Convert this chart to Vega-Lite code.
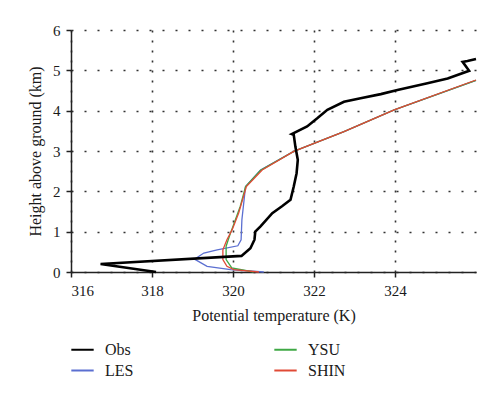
{
  "$schema": "https://vega.github.io/schema/vega-lite/v6.json",
  "width": 405,
  "height": 242,
  "autosize": "none",
  "padding": {"left": 71, "top": 30, "right": 24, "bottom": 126},
  "background": "white",
  "config": {
    "view": {"stroke": null},
    "font": "Liberation Serif",
    "axis": {
      "labelFont": "Liberation Serif",
      "titleFont": "Liberation Serif",
      "labelFontSize": 15,
      "titleFontSize": 16,
      "titleFontWeight": "normal",
      "labelColor": "#1a1a1a",
      "titleColor": "#1a1a1a",
      "domainColor": "#222",
      "domainWidth": 1.5,
      "tickColor": "#222",
      "tickWidth": 1.5,
      "tickSize": 5,
      "gridColor": "#333",
      "gridWidth": 1.6,
      "gridOpacity": 1
    },
    "legend": {
      "labelFont": "Liberation Serif",
      "labelFontSize": 16,
      "labelColor": "#1a1a1a"
    }
  },
  "data": {
    "values": [
      {"s": "Obs", "i": 0, "t": 318.10, "h": 0.0},
      {"s": "Obs", "i": 1, "t": 316.73, "h": 0.2},
      {"s": "Obs", "i": 2, "t": 320.21, "h": 0.40},
      {"s": "Obs", "i": 3, "t": 320.43, "h": 0.59},
      {"s": "Obs", "i": 4, "t": 320.53, "h": 0.80},
      {"s": "Obs", "i": 5, "t": 320.55, "h": 1.0},
      {"s": "Obs", "i": 6, "t": 320.68, "h": 1.13},
      {"s": "Obs", "i": 7, "t": 320.97, "h": 1.46},
      {"s": "Obs", "i": 8, "t": 321.21, "h": 1.63},
      {"s": "Obs", "i": 9, "t": 321.42, "h": 1.79},
      {"s": "Obs", "i": 10, "t": 321.50, "h": 2.12},
      {"s": "Obs", "i": 11, "t": 321.57, "h": 2.45},
      {"s": "Obs", "i": 12, "t": 321.60, "h": 2.78},
      {"s": "Obs", "i": 13, "t": 321.54, "h": 3.11},
      {"s": "Obs", "i": 14, "t": 321.50, "h": 3.40},
      {"s": "Obs", "i": 15, "t": 321.45, "h": 3.42},
      {"s": "Obs", "i": 16, "t": 321.83, "h": 3.61},
      {"s": "Obs", "i": 17, "t": 322.08, "h": 3.81},
      {"s": "Obs", "i": 18, "t": 322.33, "h": 4.02},
      {"s": "Obs", "i": 19, "t": 322.74, "h": 4.22},
      {"s": "Obs", "i": 20, "t": 323.15, "h": 4.31},
      {"s": "Obs", "i": 21, "t": 323.65, "h": 4.41},
      {"s": "Obs", "i": 22, "t": 324.06, "h": 4.51},
      {"s": "Obs", "i": 23, "t": 324.80, "h": 4.68},
      {"s": "Obs", "i": 24, "t": 325.30, "h": 4.80},
      {"s": "Obs", "i": 25, "t": 325.83, "h": 4.99},
      {"s": "Obs", "i": 26, "t": 325.67, "h": 5.21},
      {"s": "Obs", "i": 27, "t": 325.79, "h": 5.23},
      {"s": "Obs", "i": 28, "t": 326.0, "h": 5.28},

      {"s": "LES", "i": 0, "t": 320.76, "h": 0.0},
      {"s": "LES", "i": 1, "t": 319.94, "h": 0.06},
      {"s": "LES", "i": 2, "t": 319.36, "h": 0.14},
      {"s": "LES", "i": 3, "t": 319.05, "h": 0.32},
      {"s": "LES", "i": 4, "t": 319.28, "h": 0.47},
      {"s": "LES", "i": 5, "t": 319.61, "h": 0.55},
      {"s": "LES", "i": 6, "t": 320.12, "h": 0.65},
      {"s": "LES", "i": 7, "t": 320.20, "h": 0.80},
      {"s": "LES", "i": 8, "t": 320.22, "h": 1.30},
      {"s": "LES", "i": 9, "t": 320.31, "h": 2.12},
      {"s": "LES", "i": 10, "t": 320.68, "h": 2.53},
      {"s": "LES", "i": 11, "t": 321.50, "h": 2.99},
      {"s": "LES", "i": 12, "t": 322.74, "h": 3.48},
      {"s": "LES", "i": 13, "t": 323.98, "h": 4.02},
      {"s": "LES", "i": 14, "t": 326.0, "h": 4.75},

      {"s": "YSU", "i": 0, "t": 320.51, "h": 0.0},
      {"s": "YSU", "i": 1, "t": 319.97, "h": 0.10},
      {"s": "YSU", "i": 2, "t": 319.83, "h": 0.31},
      {"s": "YSU", "i": 3, "t": 319.83, "h": 0.64},
      {"s": "YSU", "i": 4, "t": 319.94, "h": 0.97},
      {"s": "YSU", "i": 5, "t": 320.18, "h": 1.63},
      {"s": "YSU", "i": 6, "t": 320.31, "h": 2.12},
      {"s": "YSU", "i": 7, "t": 320.68, "h": 2.52},
      {"s": "YSU", "i": 8, "t": 321.50, "h": 2.99},
      {"s": "YSU", "i": 9, "t": 322.74, "h": 3.48},
      {"s": "YSU", "i": 10, "t": 323.98, "h": 4.02},
      {"s": "YSU", "i": 11, "t": 326.0, "h": 4.75},

      {"s": "SHIN", "i": 0, "t": 320.64, "h": 0.0},
      {"s": "SHIN", "i": 1, "t": 320.02, "h": 0.06},
      {"s": "SHIN", "i": 2, "t": 319.85, "h": 0.14},
      {"s": "SHIN", "i": 3, "t": 319.75, "h": 0.31},
      {"s": "SHIN", "i": 4, "t": 319.75, "h": 0.55},
      {"s": "SHIN", "i": 5, "t": 319.85, "h": 0.80},
      {"s": "SHIN", "i": 6, "t": 319.98, "h": 1.05},
      {"s": "SHIN", "i": 7, "t": 320.14, "h": 1.46},
      {"s": "SHIN", "i": 8, "t": 320.33, "h": 2.12},
      {"s": "SHIN", "i": 9, "t": 320.72, "h": 2.53},
      {"s": "SHIN", "i": 10, "t": 321.50, "h": 2.99},
      {"s": "SHIN", "i": 11, "t": 322.74, "h": 3.48},
      {"s": "SHIN", "i": 12, "t": 323.98, "h": 4.02},
      {"s": "SHIN", "i": 13, "t": 326.0, "h": 4.76}
    ]
  },
  "encoding": {
    "x": {
      "field": "t", "type": "quantitative",
      "scale": {"domain": [316, 326], "nice": false, "zero": false},
      "axis": {
        "values": [316, 318, 320, 322, 324],
        "title": "Potential temperature (K)",
        "titlePadding": 9,
        "labelPadding": 6,
        "gridDash": [2, 8]
      }
    },
    "y": {
      "field": "h", "type": "quantitative",
      "scale": {"domain": [0, 6], "nice": false},
      "axis": {
        "values": [0, 1, 2, 3, 4, 5, 6],
        "title": "Height above ground (km)",
        "titlePadding": 9,
        "labelPadding": 6,
        "gridDash": [2, 11]
      }
    },
    "order": {"field": "i", "type": "quantitative"},
    "color": {
      "field": "s", "type": "nominal",
      "scale": {
        "domain": ["Obs", "LES", "YSU", "SHIN"],
        "range": ["#000000", "#5b6fd1", "#3fa845", "#e04a36"]
      },
      "legend": {
        "title": null,
        "orient": "none",
        "legendX": -1,
        "legendY": 307,
        "columns": 2,
        "columnPadding": 136,
        "rowPadding": 0,
        "symbolType": "stroke",
        "symbolSize": 500,
        "symbolStrokeWidth": 2,
        "labelOffset": 10
      }
    }
  },
  "layer": [
    {"transform": [{"filter": "datum.s === 'LES'"}], "mark": {"type": "line", "strokeWidth": 1.3}},
    {"transform": [{"filter": "datum.s === 'YSU'"}], "mark": {"type": "line", "strokeWidth": 1.3}},
    {"transform": [{"filter": "datum.s === 'SHIN'"}], "mark": {"type": "line", "strokeWidth": 1.3}},
    {"transform": [{"filter": "datum.s === 'Obs'"}], "mark": {"type": "line", "strokeWidth": 2.6}}
  ]
}
